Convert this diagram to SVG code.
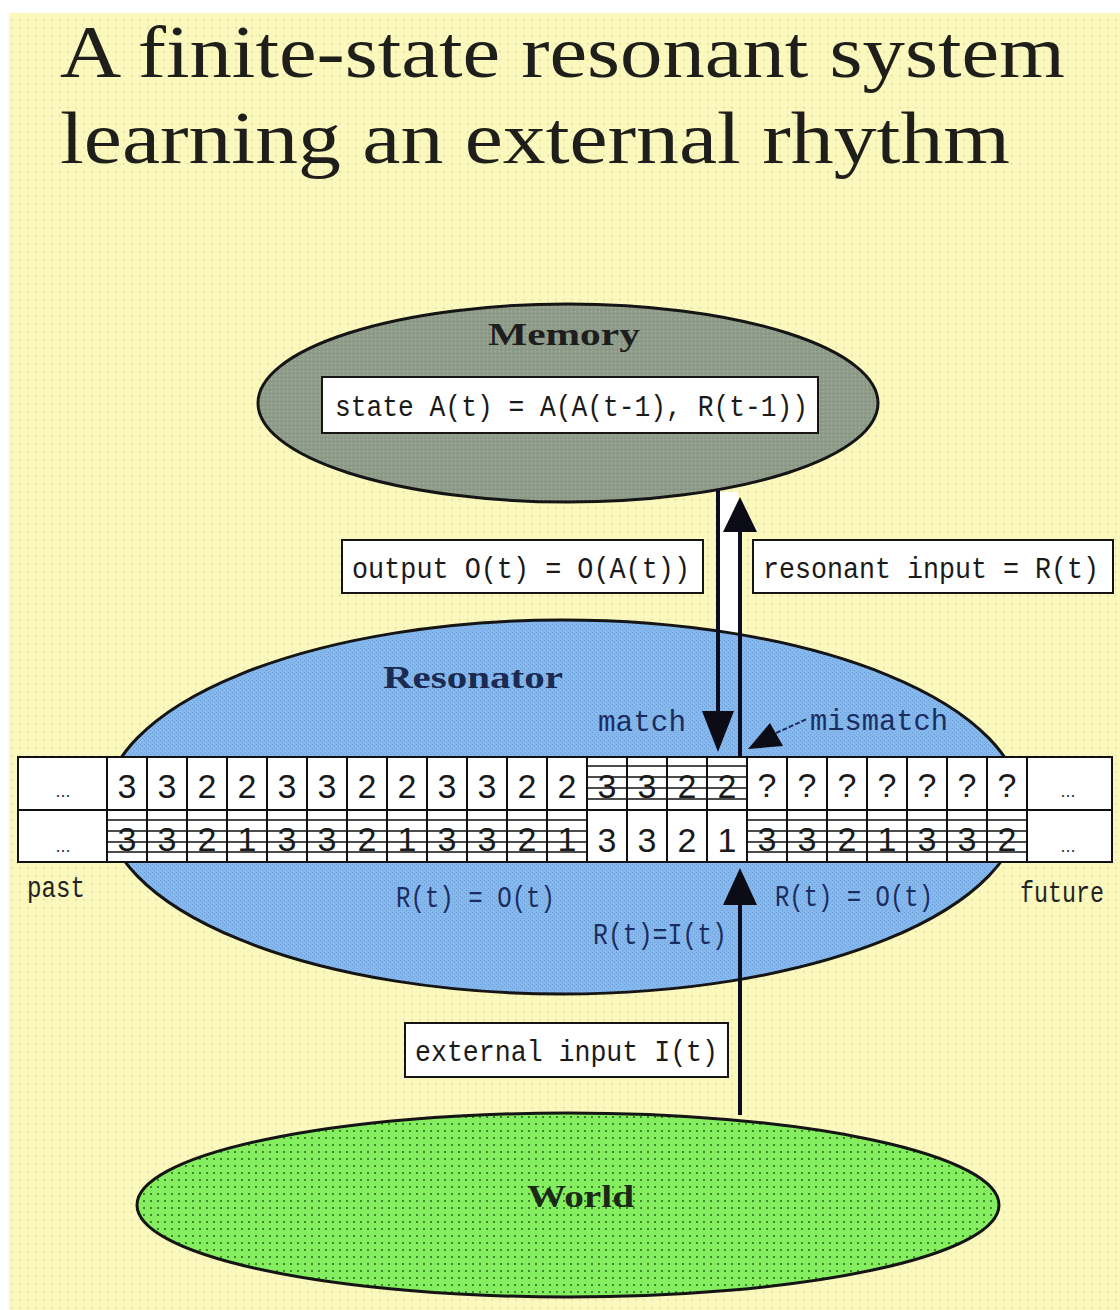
<svg xmlns="http://www.w3.org/2000/svg" width="1120" height="1310" viewBox="0 0 1120 1310">
  <defs>
    <pattern id="paper" width="8" height="8" patternUnits="userSpaceOnUse">
      <rect width="8" height="8" fill="#fbf8bd"/>
      <rect x="3" y="3" width="1.6" height="1.6" fill="#e2dc9c"/>
    </pattern>
    <pattern id="grass" width="7" height="7" patternUnits="userSpaceOnUse">
      <rect width="7" height="7" fill="#84ee60"/>
      <rect x="3" y="3" width="2" height="2" fill="#3c8a2c"/>
    </pattern>
    <pattern id="sky" width="4" height="4" patternUnits="userSpaceOnUse">
      <rect width="4" height="4" fill="#86b8ee"/>
      <rect x="0" y="0" width="1" height="1" fill="#6b9fd8"/>
      <rect x="2" y="2" width="1" height="1" fill="#6b9fd8"/>
    </pattern>
    <pattern id="slate" width="4" height="4" patternUnits="userSpaceOnUse">
      <rect width="4" height="4" fill="#8e9c89"/>
      <rect x="1" y="1" width="1" height="1" fill="#7d8b78"/>
      <rect x="3" y="3" width="1" height="1" fill="#a3b09e"/>
    </pattern>
  </defs>
  <style>
    .title { font-family: "Liberation Serif", "DejaVu Serif", serif; font-size: 74px; fill: #1e1e1a; }
    .node { stroke: #151515; stroke-width: 3; }
    .head { font-family: "Liberation Serif", serif; font-weight: bold; font-size: 32px; }
    .box { fill: #ffffff; stroke: #151515; stroke-width: 2; }
    .mono { font-family: "Liberation Mono", "DejaVu Sans Mono", monospace; font-size: 30px; fill: #1a1a1a; }
    .lbl { font-family: "Liberation Mono", "DejaVu Sans Mono", monospace; font-size: 30px; fill: #1b2d5e; }
    .dark { fill: #222222; }
    .cell { fill: #ffffff; stroke: #111111; stroke-width: 2; }
    .grid { stroke: #111111; stroke-width: 2; }
    .strike { stroke: #111111; stroke-width: 1.6; }
    .dig { font-family: "Liberation Sans", "DejaVu Sans", sans-serif; font-size: 34px; fill: #1a1a1a; text-anchor: middle; }
    .dots { font-family: "Liberation Sans", sans-serif; font-size: 18px; fill: #333333; text-anchor: middle; }
    .wire { stroke: #0c0c22; stroke-width: 4; fill: none; }
    .tip { fill: #0c0c16; }
  </style>

  <!-- page -->
  <rect x="0" y="0" width="1120" height="1310" fill="#ffffff"/>
  <rect x="9" y="13" width="1111" height="1297" fill="url(#paper)"/>

  <g id="title">
    <text class="title" x="60" y="77" textLength="1005" lengthAdjust="spacingAndGlyphs">A finite-state resonant system</text>
    <text class="title" x="60" y="163" textLength="950" lengthAdjust="spacingAndGlyphs">learning an external rhythm</text>
  </g>

  <!-- gap between the two vertical wires -->
  <rect x="720" y="492" width="18" height="140" fill="#ffffff"/>

  <g id="memory">
    <ellipse class="node" cx="568" cy="403" rx="310" ry="99" fill="url(#slate)"/>
    <text class="head" x="488" y="345" textLength="152" lengthAdjust="spacingAndGlyphs" fill="#1e1e1e">Memory</text>
    <rect class="box" x="322" y="377" width="496" height="56"/>
    <text class="mono" x="335" y="416" textLength="473" lengthAdjust="spacingAndGlyphs">state A(t) = A(A(t-1), R(t-1))</text>
  </g>

  <g id="resonator">
    <ellipse class="node" cx="563" cy="807" rx="458" ry="187" fill="url(#sky)"/>
    <text class="head" x="383" y="688" textLength="180" lengthAdjust="spacingAndGlyphs" fill="#1b2a52">Resonator</text>
  </g>

  <g id="world">
    <ellipse class="node" cx="568" cy="1205" rx="431" ry="92" fill="url(#grass)"/>
    <text class="head" x="527" y="1207" textLength="107" lengthAdjust="spacingAndGlyphs" fill="#1a2a16">World</text>
  </g>

  <g id="output-label">
    <rect class="box" x="342" y="540" width="361" height="53"/>
    <text class="mono" x="352" y="578" textLength="338" lengthAdjust="spacingAndGlyphs">output O(t) = O(A(t))</text>
  </g>

  <g id="resonant-input-label">
    <rect class="box" x="753" y="540" width="360" height="53"/>
    <text class="mono" x="763" y="578" font-size="26" textLength="336" lengthAdjust="spacingAndGlyphs">resonant input = R(t)</text>
  </g>

  <g id="external-input-label">
    <rect class="box" x="405" y="1023" width="323" height="54"/>
    <text class="mono" x="415" y="1061" textLength="303" lengthAdjust="spacingAndGlyphs">external input I(t)</text>
  </g>

  <!-- time tape: upper row = resonant input, lower row = output -->
  <g id="tape">
    <rect class="cell" x="18" y="757" width="1094" height="105"/>
    <!-- ruled-out cells -->
    <g class="strike">
      <line x1="587" y1="766" x2="747" y2="766"/>
      <line x1="587" y1="777" x2="747" y2="777"/>
      <line x1="587" y1="788" x2="747" y2="788"/>
      <line x1="587" y1="799" x2="747" y2="799"/>
      <line x1="107" y1="820" x2="587" y2="820"/>
      <line x1="107" y1="831" x2="587" y2="831"/>
      <line x1="107" y1="842" x2="587" y2="842"/>
      <line x1="107" y1="852" x2="587" y2="852"/>
      <line x1="747" y1="820" x2="1027" y2="820"/>
      <line x1="747" y1="831" x2="1027" y2="831"/>
      <line x1="747" y1="842" x2="1027" y2="842"/>
      <line x1="747" y1="852" x2="1027" y2="852"/>
    </g>
    <g class="grid">
      <line x1="18" y1="810" x2="1112" y2="810"/>
      <line x1="107" y1="757" x2="107" y2="862"/>
      <line x1="147" y1="757" x2="147" y2="862"/>
      <line x1="187" y1="757" x2="187" y2="862"/>
      <line x1="227" y1="757" x2="227" y2="862"/>
      <line x1="267" y1="757" x2="267" y2="862"/>
      <line x1="307" y1="757" x2="307" y2="862"/>
      <line x1="347" y1="757" x2="347" y2="862"/>
      <line x1="387" y1="757" x2="387" y2="862"/>
      <line x1="427" y1="757" x2="427" y2="862"/>
      <line x1="467" y1="757" x2="467" y2="862"/>
      <line x1="507" y1="757" x2="507" y2="862"/>
      <line x1="547" y1="757" x2="547" y2="862"/>
      <line x1="587" y1="757" x2="587" y2="862"/>
      <line x1="627" y1="757" x2="627" y2="862"/>
      <line x1="667" y1="757" x2="667" y2="862"/>
      <line x1="707" y1="757" x2="707" y2="862"/>
      <line x1="747" y1="757" x2="747" y2="862"/>
      <line x1="787" y1="757" x2="787" y2="862"/>
      <line x1="827" y1="757" x2="827" y2="862"/>
      <line x1="867" y1="757" x2="867" y2="862"/>
      <line x1="907" y1="757" x2="907" y2="862"/>
      <line x1="947" y1="757" x2="947" y2="862"/>
      <line x1="987" y1="757" x2="987" y2="862"/>
      <line x1="1027" y1="757" x2="1027" y2="862"/>
    </g>
    <text class="dots" x="63" y="797">...</text>
    <text class="dots" x="63" y="852">...</text>
    <text class="dots" x="1068" y="797">...</text>
    <text class="dots" x="1068" y="852">...</text>
    <g class="dig">
      <text x="127" y="798">3</text><text x="167" y="798">3</text><text x="207" y="798">2</text><text x="247" y="798">2</text>
      <text x="287" y="798">3</text><text x="327" y="798">3</text><text x="367" y="798">2</text><text x="407" y="798">2</text>
      <text x="447" y="798">3</text><text x="487" y="798">3</text><text x="527" y="798">2</text><text x="567" y="798">2</text>
      <text x="607" y="798">3</text><text x="647" y="798">3</text><text x="687" y="798">2</text><text x="727" y="798">2</text>
      <text x="767" y="797">?</text><text x="807" y="797">?</text><text x="847" y="797">?</text><text x="887" y="797">?</text>
      <text x="927" y="797">?</text><text x="967" y="797">?</text><text x="1007" y="797">?</text>

      <text x="127" y="851">3</text><text x="167" y="851">3</text><text x="207" y="851">2</text><text x="247" y="851">1</text>
      <text x="287" y="851">3</text><text x="327" y="851">3</text><text x="367" y="851">2</text><text x="407" y="851">1</text>
      <text x="447" y="851">3</text><text x="487" y="851">3</text><text x="527" y="851">2</text><text x="567" y="851">1</text>
      <text x="607" y="852">3</text><text x="647" y="852">3</text><text x="687" y="852">2</text><text x="727" y="852">1</text>
      <text x="767" y="851">3</text><text x="807" y="851">3</text><text x="847" y="851">2</text><text x="887" y="851">1</text>
      <text x="927" y="851">3</text><text x="967" y="851">3</text><text x="1007" y="851">2</text>
    </g>
  </g>

  <g id="connectors">
    <!-- output O(t): memory down to the tape -->
    <line class="wire" x1="718" y1="490" x2="718" y2="714"/>
    <polygon class="tip" points="702,711 734,711 718,752"/>
    <!-- resonant input R(t): tape up to memory -->
    <line class="wire" x1="740" y1="757" x2="740" y2="528"/>
    <polygon class="tip" points="723,532 757,532 740,497"/>
    <!-- external input I(t): world up to the tape -->
    <line class="wire" x1="740" y1="1115" x2="740" y2="902"/>
    <polygon class="tip" points="723,905 757,905 740,868"/>
    <!-- mismatch pointer -->
    <polygon class="tip" points="748,749 783,746 770,723"/>
    <line x1="776" y1="733" x2="807" y2="719" stroke="#1b2d5e" stroke-width="2" stroke-dasharray="5 2"/>
  </g>

  <g id="labels">
    <text class="lbl" x="598" y="731" textLength="88" lengthAdjust="spacingAndGlyphs">match</text>
    <text class="lbl" x="810" y="730" textLength="138" lengthAdjust="spacingAndGlyphs">mismatch</text>
    <text class="lbl dark" x="27" y="897" textLength="58" lengthAdjust="spacingAndGlyphs">past</text>
    <text class="lbl dark" x="1020" y="902" font-size="23" textLength="84" lengthAdjust="spacingAndGlyphs">future</text>
    <text class="lbl" x="396" y="907" textLength="159" lengthAdjust="spacingAndGlyphs">R(t) = O(t)</text>
    <text class="lbl" x="775" y="906" textLength="158" lengthAdjust="spacingAndGlyphs">R(t) = O(t)</text>
    <text class="lbl" x="593" y="944" textLength="134" lengthAdjust="spacingAndGlyphs">R(t)=I(t)</text>
  </g>
</svg>
